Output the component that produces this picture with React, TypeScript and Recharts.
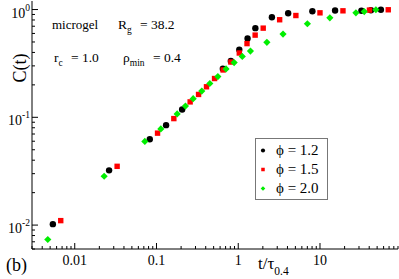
import React from 'react';
import { ScatterChart, Scatter, XAxis, YAxis, Legend } from 'recharts';

const FONT = "'Liberation Serif', 'Liberation Sans', Arial, sans-serif";

// [t / tau_0.4, C(t)]
const phi12: [number, number][] = [
  [0.0054, 0.0102], [0.0263, 0.0322], [0.0828, 0.0625], [0.131, 0.0846], [0.206, 0.118],
  [0.648, 0.282], [0.812, 0.333], [1.03, 0.423], [1.3, 0.538], [1.62, 0.672],
  [2.58, 0.849], [4.08, 0.924], [8.07, 0.964], [15.3, 0.979], [32.1, 0.975],
  [42.0, 0.985], [55.6, 0.995],
];
const phi15: [number, number][] = [
  [0.00674, 0.011], [0.033, 0.0351], [0.103, 0.0713], [0.163, 0.0973], [0.258, 0.139],
  [0.327, 0.163], [0.409, 0.192], [0.513, 0.229], [0.653, 0.275], [0.812, 0.326],
  [1.03, 0.395], [1.28, 0.483], [1.61, 0.579], [2.02, 0.672], [3.21, 0.804],
  [5.07, 0.88], [10.0, 0.932], [19.1, 0.973], [40.3, 0.988], [68.4, 0.995],
];
const phi20: [number, number][] = [
  [0.00468, 0.00735], [0.0229, 0.0284], [0.072, 0.0597], [0.113, 0.0781], [0.179, 0.1075],
  [0.226, 0.127], [0.281, 0.149], [0.358, 0.175], [0.449, 0.206], [0.563, 0.239],
  [0.709, 0.281], [0.891, 0.322], [1.12, 0.367], [1.41, 0.412], [2.24, 0.496],
  [3.53, 0.592], [7.01, 0.738], [13.2, 0.838], [27.5, 0.932], [34.8, 0.958],
  [48.3, 0.995],
];

const xDecades = [0.001, 0.01, 0.1, 1, 10];
const yDecades = [0.001, 0.01, 0.1, 1];
const mantissas = [1, 2, 3, 4, 5, 6, 7, 8, 9];
const xDomain = [0.003, 90];
const yDomain = [0.006, 1.2];

const buildTicks = (decades: number[], dom: number[]) =>
  decades
    .flatMap(d => mantissas.map(m => Number((m * d).toPrecision(6))))
    .filter(v => v >= dom[0] - 1e-12 && v <= dom[1] + 1e-12);

const xTicks = buildTicks(xDecades, xDomain);
const yTicks = buildTicks(yDecades, yDomain);

const isDecade = (v: number) => Math.abs(Math.log10(v) - Math.round(Math.log10(v))) < 1e-6;

const series = [
  { name: 'ϕ = 1.2', data: phi12, color: '#000000', kind: 'circle' },
  { name: 'ϕ = 1.5', data: phi15, color: '#ff0000', kind: 'square' },
  { name: 'ϕ = 2.0', data: phi20, color: '#00ee00', kind: 'diamond' },
];

const marker = (kind: string, cx: number, cy: number, color: string, s: number) => {
  if (kind === 'circle') return <circle cx={cx} cy={cy} r={s * 3.2} fill={color} />;
  if (kind === 'square') {
    const h = s * 2.7;
    return <rect x={cx - h} y={cy - h} width={2 * h} height={2 * h} fill={color} />;
  }
  const d = s * 3.6;
  return <polygon points={`${cx},${cy - d} ${cx + d},${cy} ${cx},${cy + d} ${cx - d},${cy}`} fill={color} />;
};

const BottomTick = (props: any) => {
  const { x, y, payload } = props;
  const major = isDecade(payload.value);
  return (
    <g>
      <line x1={x} y1={y} x2={x} y2={y - (major ? 6 : 3)} stroke="#000" />
      {major && (
        <text x={x} y={y + 16} textAnchor="middle" style={{ fontFamily: FONT }} fontSize={14} fill="#000">
          {String(payload.value)}
        </text>
      )}
    </g>
  );
};

const TopTick = (props: any) => {
  const { x, y, payload } = props;
  const major = isDecade(payload.value);
  return <line x1={x} y1={y} x2={x} y2={y + (major ? 6 : 3)} stroke="#000" />;
};

const LeftTick = (props: any) => {
  const { x, y, payload } = props;
  const major = isDecade(payload.value);
  const exp = Math.round(Math.log10(payload.value));
  return (
    <g>
      <line x1={x} y1={y} x2={x + (major ? 6 : 3)} y2={y} stroke="#000" />
      {major && (
        <text x={x - 2} y={y + 8} textAnchor="end" style={{ fontFamily: FONT }} fontSize={14} fill="#000">
          10<tspan dy={-7} fontSize={9.5}>{String(exp)}</tspan>
        </text>
      )}
    </g>
  );
};

const RightTick = (props: any) => {
  const { x, y, payload } = props;
  const major = isDecade(payload.value);
  return <line x1={x} y1={y} x2={x - (major ? 6 : 3)} y2={y} stroke="#000" />;
};

const LegendBox = () => (
  <div
    style={{
      width: 73,
      height: 62,
      boxSizing: 'border-box',
      border: '1px solid #777',
      background: '#fff',
      paddingTop: 2,
      fontFamily: FONT,
      fontSize: 15,
      color: '#000',
    }}
  >
    {series.map(s => (
      <div key={s.name} style={{ height: 19, display: 'flex', alignItems: 'center' }}>
        <svg width={20} height={19}>
          {marker(s.kind, 7, 9.5, s.color, 0.65)}
        </svg>
        <span style={{ whiteSpace: 'nowrap' }}>{s.name}</span>
      </div>
    ))}
  </div>
);

export default function App() {
  return (
    <div style={{ position: 'absolute', left: 0, top: 0, width: 399, height: 279, background: '#fff', fontFamily: FONT }}>
      <ScatterChart width={399} height={279} margin={{ top: 1, right: 1, bottom: 0, left: 0 }}>
        <XAxis
          xAxisId="b"
          dataKey="x"
          type="number"
          scale="log"
          domain={xDomain}
          allowDataOverflow
          ticks={xTicks}
          interval={0}
          height={30}
          tickSize={0}
          tickMargin={0}
          tick={BottomTick}
          axisLine={{ stroke: '#000' }}
        />
        <XAxis
          xAxisId="t"
          orientation="top"
          dataKey="x"
          type="number"
          scale="log"
          domain={xDomain}
          allowDataOverflow
          ticks={xTicks}
          interval={0}
          height={0}
          tickSize={0}
          tickMargin={0}
          tick={TopTick}
          axisLine={{ stroke: '#000' }}
        />
        <YAxis
          yAxisId="l"
          dataKey="y"
          type="number"
          scale="log"
          domain={yDomain}
          allowDataOverflow
          ticks={yTicks}
          interval={0}
          width={32}
          tickSize={0}
          tickMargin={0}
          tick={LeftTick}
          axisLine={{ stroke: '#000' }}
        />
        <YAxis
          yAxisId="r"
          orientation="right"
          dataKey="y"
          type="number"
          scale="log"
          domain={yDomain}
          allowDataOverflow
          ticks={yTicks}
          interval={0}
          width={0}
          tickSize={0}
          tickMargin={0}
          tick={RightTick}
          axisLine={{ stroke: '#000' }}
        />
        {series.map(s => (
          <Scatter
            key={s.name}
            name={s.name}
            xAxisId="b"
            yAxisId="l"
            data={s.data.map(([x, y]) => ({ x, y }))}
            fill={s.color}
            isAnimationActive={false}
            shape={(p: any) => marker(s.kind, p.cx, p.cy, s.color, 1)}
          />
        ))}
        <Legend
          layout="vertical"
          align="center"
          verticalAlign="middle"
          content={LegendBox}
          wrapperStyle={{ left: 255, top: 138, width: 73, height: 62 }}
        />
      </ScatterChart>
      <svg
        width={399}
        height={279}
        style={{ position: 'absolute', left: 0, top: 0, pointerEvents: 'none', fontFamily: FONT }}
        fill="#000"
      >
        <text x={52} y={29} fontSize={13}>microgel</text>
        <text x={118} y={29} fontSize={13.5}>
          R<tspan dy={4} fontSize={9.5}>g</tspan>
        </text>
        <text x={140} y={29} fontSize={13.5}>= 38.2</text>
        <text x={54} y={62} fontSize={13.5}>
          r<tspan dy={4} fontSize={9.5}>c</tspan>
        </text>
        <text x={71} y={62} fontSize={13.5}>= 1.0</text>
        <text x={123} y={62} fontSize={13.5}>
          ρ<tspan dy={4} fontSize={9.5}>min</tspan>
        </text>
        <text x={153} y={62} fontSize={13.5}>= 0.4</text>
        <text x={26} y={68} fontSize={18} textAnchor="middle" transform="rotate(-90 26 68)">C(t)</text>
        <text x={258} y={269} fontSize={17}>
          t/τ<tspan dy={6} fontSize={11.5}>0.4</tspan>
        </text>
        <text x={6} y={271} fontSize={18}>(b)</text>
      </svg>
    </div>
  );
}
